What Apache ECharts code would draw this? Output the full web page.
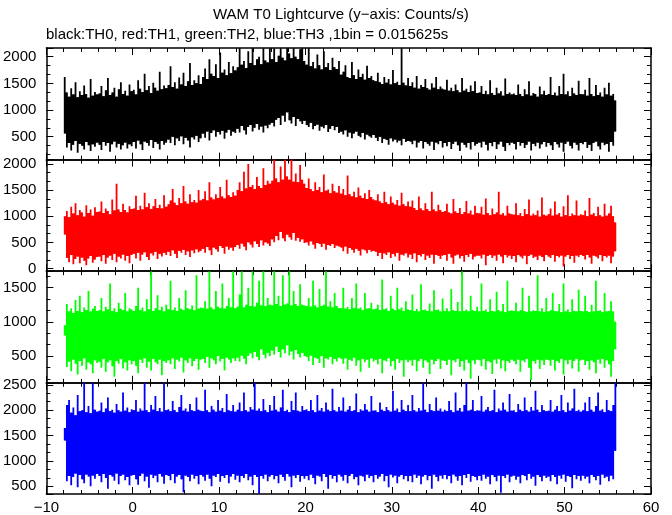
<!DOCTYPE html>
<html>
<head>
<meta charset="utf-8">
<script src="https://cdn.jsdelivr.net/npm/echarts@6/dist/echarts.min.js"></script>
<style>
html,body{margin:0;padding:0;background:#fff;}
#chart{width:672px;height:515px;}
</style>
</head>
<body>
<div id="chart"></div>
<script>
const T_START = -8;      // first time bin (s)
const STEP = 0.25;       // width of each plotted step (s)

const TH0_HI = [
1620,1330,1250,1410,1290,1520,1240,1350,1280,1460,1300,1230,1580,1270,1340,1290,
1310,1450,1260,1370,1600,1280,1330,1420,1250,1390,1520,1300,1360,1270,1480,1350,
1380,1290,1560,1400,1340,1680,1370,1450,1320,1510,1420,1360,1720,1390,1460,1410,
1470,1820,1430,1520,1400,1610,1480,1700,1450,1540,1880,1470,1560,1500,1650,1490,
1620,1780,1580,1950,1680,1640,1860,1600,2080,1700,1760,1650,1900,1690,1820,1740,
1800,2160,1850,1920,1790,2100,1880,2160,1840,1950,2000,1860,2160,1930,1890,2160,
1950,2160,1900,2020,2160,1980,1930,2160,2060,1970,2160,2000,1950,2140,2160,1920,
1850,2160,1820,1900,1780,2040,1840,1760,2100,1800,1880,1750,1980,1800,1770,1920,
1660,1720,1840,1620,1600,1900,1650,1580,1760,1620,1680,1570,1830,1600,1640,1560,
1540,1700,1520,1490,1620,1510,1580,1480,1750,1500,1530,1470,2160,1510,1460,1600,
1450,1520,1420,1640,1400,1470,1430,1580,1410,1380,1500,1420,1620,1390,1440,1400,
1380,1570,1360,1420,1350,1480,1370,1330,1600,1360,1400,1340,1460,1350,1540,1320,
1330,1450,1300,1360,1290,1560,1320,1280,1420,1310,1350,1270,1590,1300,1330,1290,
1310,1280,1480,1300,1260,1390,1290,1540,1270,1320,1300,1250,1440,1290,1360,1280,
1300,1620,1280,1330,1270,1450,1300,1680,1290,1350,1260,1420,1310,1280,1550,1300,
1290,1380,1270,1600,1300,1260,1470,1280,1330,1250,1420,1290,1510,1270,1300,1180
];
const TH0_LO = [
560,300,380,240,350,420,200,370,330,260,400,340,230,360,310,390,
350,250,400,330,380,220,360,410,300,370,260,340,390,280,360,320,
400,280,430,360,250,410,380,330,440,290,400,370,260,420,350,390,
450,380,500,340,470,420,510,360,480,430,300,490,450,520,400,470,
560,480,600,430,570,620,500,590,540,610,460,580,630,520,600,570,
650,580,700,620,540,680,720,600,670,740,630,690,580,710,660,730,
760,690,820,850,720,900,780,960,810,750,870,700,830,790,740,800,
720,680,760,640,700,730,610,690,660,720,590,650,700,620,680,570,
600,540,620,500,580,470,560,600,520,490,570,450,540,510,480,530,
480,420,500,380,460,440,350,470,410,450,390,430,340,460,400,420,
410,360,430,300,390,420,280,400,370,330,410,250,390,360,420,300,
380,320,400,270,370,410,340,230,390,350,300,380,260,400,330,370,
390,300,410,350,240,380,320,400,270,360,410,310,230,380,340,390,
370,260,400,330,380,290,350,410,240,370,320,390,280,360,400,310,
380,340,250,400,360,300,390,220,370,410,330,280,390,350,240,380,
360,400,290,350,230,380,410,320,260,390,340,370,220,400,330,600
];

const TH1_HI = [
1000,1100,980,1180,1050,1250,1020,1120,1070,990,1210,1060,1130,1010,1170,1080,
1090,1280,1060,1150,1100,1040,1320,1110,1620,1130,1080,1240,1120,1070,1190,1140,
1150,1390,1120,1200,1130,1450,1170,1250,1140,1190,1330,1160,1220,1150,1400,1180,
1230,1300,1520,1260,1210,1350,1250,1580,1280,1240,1420,1270,1310,1260,1500,1300,
1330,1480,1300,1650,1360,1320,1420,1350,1560,1380,1340,1700,1400,1370,1460,1390,
1500,1650,1480,1850,1530,2000,1560,1600,1520,1750,1580,1540,1920,1600,1680,1620,
1680,2090,1720,1650,1950,1700,2090,1760,1700,2090,1660,1820,1650,1980,1700,1620,
1540,1720,1520,1480,1650,1500,1560,1460,1800,1490,1510,1440,1620,1480,1450,1580,
1430,1520,1400,1780,1420,1380,1470,1360,1550,1390,1350,1440,1330,1500,1370,1320,
1300,1420,1280,1250,1470,1270,1230,1380,1260,1220,1310,1200,1450,1230,1190,1280,
1180,1300,1160,1120,1380,1150,1110,1250,1140,1100,1470,1130,1090,1220,1120,1080,
1100,1240,1070,1050,1330,1090,1060,1160,1040,1080,1290,1050,1110,1030,1200,1060,
1050,1180,1030,1340,1060,1020,1150,1040,1070,1470,1030,1060,1010,1200,1050,1040,
1030,1250,1020,1060,1000,1140,1040,1320,1010,1050,1020,1110,990,1360,1030,1010,
1040,1150,1010,1280,1030,1060,990,1190,1020,1400,1000,1050,1020,1300,1010,1040,
1020,1110,1000,1350,1030,1060,1000,1180,1020,990,1240,1010,1050,1200,1000,880
];
const TH1_LO = [
650,200,120,260,80,180,230,100,210,150,60,190,240,110,170,220,
230,140,260,90,210,250,160,280,120,230,190,270,150,240,100,260,
280,190,300,150,270,310,220,160,290,250,320,180,280,230,300,260,
320,240,350,280,200,340,300,360,260,330,220,350,290,370,310,340,
380,300,410,350,260,400,370,320,430,390,280,420,360,400,340,410,
450,380,480,420,350,500,460,400,520,470,410,540,440,500,480,430,
560,500,620,540,700,580,520,650,600,550,680,530,590,510,560,490,
500,440,520,460,380,490,470,410,480,360,450,430,470,390,440,420,
400,330,420,280,390,360,300,380,340,250,370,350,290,360,320,340,
320,240,300,180,290,260,310,200,280,230,300,150,270,250,290,210,
270,180,290,120,260,230,280,160,250,200,270,90,260,240,180,250,
260,150,280,210,90,250,270,190,240,130,260,220,280,170,230,250,
250,190,270,60,240,260,200,250,150,270,230,100,260,210,250,180,
240,120,260,230,190,250,80,240,270,200,230,160,250,220,140,260,
230,200,260,130,240,210,250,40,230,260,180,240,110,250,220,260,
240,170,260,210,90,250,230,190,260,140,240,210,250,100,230,330
];

const TH2_HI = [
950,1260,1150,1200,1130,1320,1160,1380,1140,1210,1170,1450,1150,1190,1230,1160,
1170,1350,1150,1220,1180,1560,1160,1200,1140,1280,1190,1170,1420,1150,1200,1180,
1160,1230,1500,1170,1210,1150,1330,1180,1740,1160,1200,1390,1170,1220,1150,1250,
1180,1600,1170,1210,1160,1350,1190,1170,1460,1200,1180,1240,1170,1680,1190,1210,
1200,1300,1190,1740,1210,1180,1450,1220,1200,1560,1190,1230,1350,1210,1740,1200,
1220,1400,1740,1210,1250,1500,1230,1740,1220,1280,1600,1240,1740,1230,1350,1250,
1240,1740,1260,1380,1230,1680,1250,1270,1740,1240,1450,1260,1230,1550,1250,1240,
1230,1350,1220,1600,1240,1210,1480,1230,1250,1740,1220,1300,1210,1420,1230,1200,
1200,1500,1190,1220,1180,1350,1200,1560,1190,1210,1170,1420,1190,1200,1280,1180,
1190,1250,1170,1620,1180,1200,1160,1380,1190,1170,1500,1180,1210,1160,1300,1180,
1170,1400,1160,1190,1150,1550,1170,1180,1160,1270,1150,1460,1170,1180,1150,1340,
1160,1200,1150,1480,1170,1160,1290,1150,1740,1160,1180,1150,1380,1170,1160,1220,
1150,1560,1160,1180,1140,1330,1160,1150,1440,1170,1150,1260,1140,1600,1160,1170,
1160,1280,1150,1170,1500,1160,1140,1380,1150,1170,1160,1680,1150,1200,1140,1350,
1150,1170,1420,1160,1150,1260,1140,1560,1150,1180,1140,1330,1160,1150,1470,1160,
1150,1380,1160,1140,1250,1150,1600,1160,1170,1140,1420,1150,1160,1300,1150,1000
];
const TH2_LO = [
800,340,420,280,450,390,230,430,360,470,300,410,380,250,440,400,
420,330,460,270,410,440,350,200,430,390,460,320,410,290,440,380,
430,360,250,450,400,470,330,420,290,460,410,380,450,220,430,400,
440,380,470,310,450,420,480,260,440,400,470,350,430,460,300,450,
460,400,490,330,470,440,380,500,420,460,290,480,450,400,470,430,
480,420,510,460,380,500,540,470,560,490,440,600,520,470,550,500,
580,520,640,560,480,600,540,660,510,570,450,590,530,480,550,500,
490,430,510,370,480,460,400,500,330,470,450,490,380,460,420,480,
460,390,470,300,450,430,480,360,440,270,460,410,450,330,470,420,
450,380,460,250,440,420,470,350,430,300,460,400,440,200,450,410,
440,360,450,280,430,460,330,440,410,240,450,380,430,460,310,440,
430,370,450,220,440,410,460,340,430,290,450,400,170,440,380,450,
440,350,460,300,430,410,240,450,390,460,320,440,280,430,400,450,
430,380,450,270,440,410,460,330,150,430,390,450,310,440,370,450,
440,360,450,290,430,400,460,230,440,380,450,320,430,460,270,440,
450,370,430,300,440,410,250,450,390,460,330,440,380,200,430,600
];

const TH3_HI = [
1650,2100,2200,1950,2050,1900,2300,1980,2000,2540,1960,2080,1940,2540,2010,1970,
1990,2150,1960,2030,2250,1980,2010,1950,2120,2000,1970,2350,1990,2050,1960,2020,
2000,2200,1970,2030,1990,2540,2000,1960,2100,2010,2280,1980,2040,1970,2540,2000,
2020,1980,2180,2000,1960,2060,2300,1990,2030,1970,2120,2000,1980,2250,2010,1990,
1980,2400,2000,1960,2080,2010,1970,2200,1990,2040,1960,2320,2000,1980,2100,1970,
2010,2150,1980,2350,2000,1970,2060,2010,2540,1990,2030,1980,2220,2000,1960,2100,
1990,2280,2010,1970,2050,2400,1980,2010,1960,2180,2000,2350,1990,1970,2080,2000,
2020,1980,2200,2000,1960,2300,1990,2040,1970,2150,2010,1980,2420,2000,1970,2060,
1990,2250,1970,2010,2080,1980,2000,2330,1960,2020,1990,2120,2010,1970,2280,1990,
2000,1960,2150,2010,1980,2060,2000,1970,2380,1990,2030,1960,2200,2010,1980,2100,
1980,2300,2000,1970,2040,1990,2540,2010,1960,2120,2000,1980,2250,1990,2030,1970,
2010,1980,2180,2000,1960,2350,1990,2040,1970,2100,2540,1990,2010,2200,1980,2000,
1990,2280,1970,2010,2060,1980,2000,2400,1960,2030,1990,2150,2010,1970,2320,1990,
2000,1960,2120,2010,1980,2250,2000,1970,2060,1990,2380,2010,1960,2100,2000,1980,
1990,2200,1970,2010,2080,1980,2300,2000,1960,2150,1990,2030,2420,1980,2010,1970,
2000,2150,1980,2260,2010,1970,2080,2350,1990,2020,1960,2200,2000,1980,2100,2540
];
const TH3_LO = [
1400,600,700,520,680,750,480,720,640,560,730,690,500,710,650,740,
700,580,740,660,450,720,690,610,750,540,700,730,620,680,520,710,
720,640,530,700,750,600,690,470,730,660,710,580,740,690,550,720,
700,620,740,560,690,720,640,380,710,680,600,730,650,700,540,720,
690,610,730,650,500,710,680,740,590,700,660,720,560,690,740,630,
710,580,700,660,740,620,690,520,720,680,350,700,650,730,600,690,
720,640,700,560,730,680,610,740,690,480,710,660,720,590,700,650,
700,620,730,660,540,710,690,600,740,680,450,720,650,700,580,730,
690,610,720,560,700,740,640,680,520,710,690,600,730,660,700,580,
720,650,690,740,600,700,480,730,670,710,560,690,720,640,700,600,
700,580,730,660,710,540,690,720,620,700,450,730,680,600,710,650,
720,640,700,560,730,690,610,700,520,720,660,740,590,700,680,620,
700,610,730,650,690,540,720,680,600,710,370,700,660,730,580,690,
710,630,690,560,720,700,620,740,650,690,510,720,680,600,710,660,
690,600,720,680,540,710,650,730,590,700,680,460,720,640,700,610,
710,650,690,560,720,680,620,700,530,730,660,690,600,710,640,1200
];

// panel y ranges (counts/s)
const Y_MIN = [71, -52, 110, 347];
const Y_MAX = [2163, 2084, 1740, 2539];
const X_MIN = -10, X_MAX = 60;
const COLORS = ['#000000', '#ff0000', '#00ff00', '#0000ff'];
const TITLE = 'WAM T0 Lightcurve (y\u2212axis: Counts/s)';
const SUBTITLE = 'black:TH0, red:TH1, green:TH2, blue:TH3 ,1bin = 0.015625s';

const PANELS = [[TH0_LO, TH0_HI], [TH1_LO, TH1_HI], [TH2_LO, TH2_HI], [TH3_LO, TH3_HI]];

const FONT = '"Liberation Sans", Arial, sans-serif';
const chart = echarts.init(document.getElementById('chart'), null, {renderer: 'canvas'});

const LEFT = 45, WIDTH = 606, TOP = 48, PH = 111.6;
const NEEDLE = 1.8;   // px width of each step's full-range stroke
const grids = [], xAxes = [], yAxes = [], series = [];
const fmt = v => (v < 0 ? '\u2212' + Math.abs(v) : String(v));

function makeRenderer(lo, hi, color) {
  return function (params, api) {
    const j = params.dataIndex;
    const t = api.value(0), l = api.value(1), h = api.value(2);
    const children = [];
    const nTop = api.coord([t + STEP / 2, h]);
    const nBot = api.coord([t + STEP / 2, l]);
    children.push({type: 'rect', shape: {x: nTop[0] - NEEDLE / 2, y: nTop[1], width: NEEDLE, height: nBot[1] - nTop[1]},
                   style: {fill: color}});
    if (j + 1 < lo.length) {
      const cl = Math.max(l, lo[j + 1]), ch = Math.min(h, hi[j + 1]);
      if (ch > cl) {
        const a = api.coord([t + STEP / 2, ch]);
        const b = api.coord([t + 1.5 * STEP, cl]);
        children.push({type: 'rect', shape: {x: a[0], y: a[1], width: b[0] - a[0] + 0.4, height: b[1] - a[1]},
                       style: {fill: color}});
      }
    }
    return {type: 'group', children: children};
  };
}

for (let i = 0; i < 4; i++) {
  grids.push({left: LEFT, width: WIDTH, top: TOP + i * PH, height: PH, containLabel: false});
  ['bottom', 'top'].forEach((pos, k) => {
    xAxes.push({
      type: 'value', gridIndex: i, position: pos, min: X_MIN, max: X_MAX, interval: 10,
      axisLine: {show: true, onZero: false, lineStyle: {color: '#000', width: 1.5}},
      axisTick: {show: true, inside: true, length: 7, lineStyle: {color: '#000', width: 1}},
      minorTick: {show: true, splitNumber: 5, length: 4, lineStyle: {color: '#000', width: 1}},
      splitLine: {show: false},
      axisLabel: {show: i === 3 && k === 0, formatter: fmt, color: '#000', fontSize: 15, fontFamily: FONT, margin: 6}
    });
  });
  ['left', 'right'].forEach((pos, k) => {
    yAxes.push({
      type: 'value', gridIndex: i, position: pos, min: Y_MIN[i], max: Y_MAX[i],
      minInterval: 500, maxInterval: 500,
      axisLine: {show: true, onZero: false, lineStyle: {color: '#000', width: 1.5}},
      axisTick: {show: true, inside: true, length: 7, lineStyle: {color: '#000', width: 1}},
      minorTick: {show: true, splitNumber: 3, length: 4, lineStyle: {color: '#000', width: 1}},
      splitLine: {show: false},
      axisLabel: {show: k === 0, showMinLabel: false, showMaxLabel: false, formatter: fmt,
                  color: '#000', fontSize: 15, fontFamily: FONT, margin: 10}
    });
  });
  const [lo, hi] = PANELS[i];
  const data = hi.map((h, j) => [T_START + j * STEP, lo[j], h]);
  series.push({
    type: 'custom', xAxisIndex: 2 * i, yAxisIndex: 2 * i, clip: true, silent: true,
    data: data,
    encode: {x: 0, y: [1, 2]},
    renderItem: makeRenderer(lo, hi, COLORS[i])
  });
}

chart.setOption({
  animation: false,
  backgroundColor: '#fff',
  title: [
    {text: TITLE, left: 213, top: 7, padding: 0,
     textStyle: {fontSize: 15, fontWeight: 'normal', color: '#000', fontFamily: FONT}},
    {text: SUBTITLE, left: 46, top: 27, padding: 0,
     textStyle: {fontSize: 15, fontWeight: 'normal', color: '#000', fontFamily: FONT}}
  ],
  grid: grids,
  xAxis: xAxes,
  yAxis: yAxes,
  series: series
});
</script>
</body>
</html>
